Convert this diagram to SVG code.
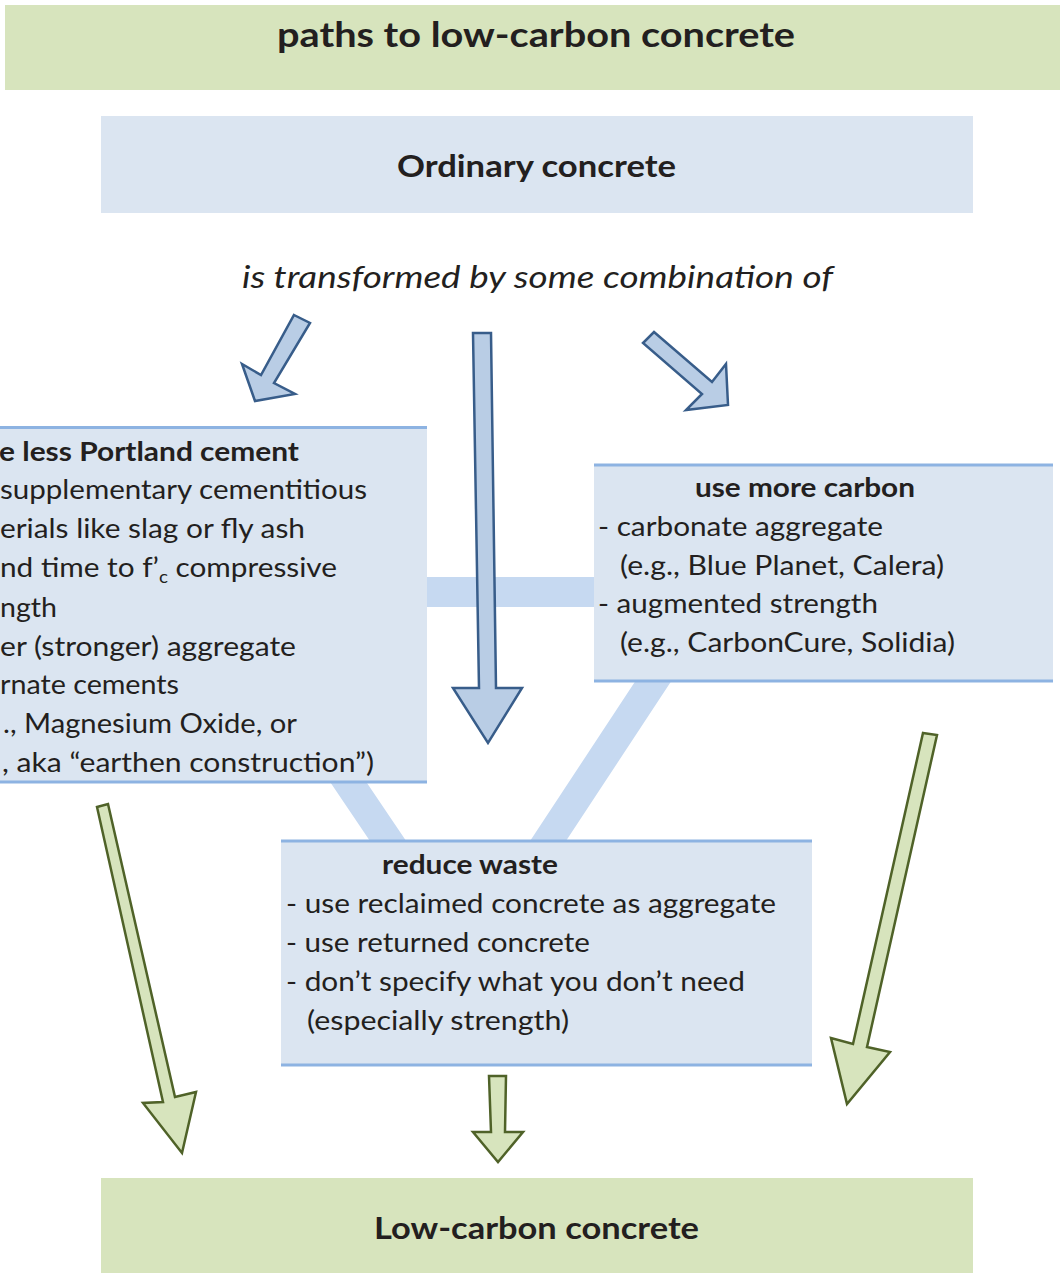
<svg xmlns="http://www.w3.org/2000/svg" width="1060" height="1273" viewBox="0 0 1060 1273">
<style>
text{font-family:Lato,"Open Sans","Liberation Sans",sans-serif;fill:#231f20}
.b{font-weight:bold}
.body{font-size:27px}
.big{font-size:30px;font-weight:bold}
.green{fill:#d7e4bd}
.blue{fill:#dbe5f1}
.rule{stroke:#8db3e2;stroke-width:3}
.band{fill:none;stroke:#c6d9f1;stroke-width:30;stroke-linejoin:miter}
.barrow{fill:#b9cde5;stroke:#385d8a;stroke-width:2.5;stroke-linejoin:miter}
.garrow{fill:#d7e4bd;stroke:#4f6228;stroke-width:2.5;stroke-linejoin:miter}
</style>
<rect width="1060" height="1273" fill="#ffffff"/>
<g id="connectors">
<polygon class="band" points="220,592 712,592 469,961"/>
<polygon class="barrow" points="294,315 310,323 274,383 295,394 255,401 242,364 261,375"/>
<polygon class="barrow" points="473,333 491,333 496,688 522,688 488,743 453,688 479,688"/>
<polygon class="barrow" points="654,332 712,382 726,364 728,405 686,410 702,394 643,343"/>
<polygon class="garrow" points="97,807 108,804 175,1097 196,1092 182,1153 143,1103 163,1102"/>
<polygon class="garrow" points="923,733 937,735 867,1047 890,1052 847,1104 831,1038 853,1044"/>
<polygon class="garrow" points="489,1076 506,1076 505,1132 523,1132 498,1162 473,1132 491,1132"/>
</g>
<g id="title">
<rect class="green" x="5" y="5" width="1055" height="85"/>
<text class="b" x="277" y="47" font-size="35" textLength="518" lengthAdjust="spacingAndGlyphs">paths to low-carbon concrete</text>
</g>
<g id="ordinary">
<rect class="blue" x="101" y="116" width="872" height="97"/>
<text class="big" x="397" y="177" textLength="279" lengthAdjust="spacingAndGlyphs">Ordinary concrete</text>
</g>
<g id="transform-label">
<text x="242" y="288" font-size="31" font-style="italic" textLength="591" lengthAdjust="spacingAndGlyphs">is transformed by some combination of</text>
</g>
<g id="less-cement">
<rect class="blue" x="0" y="428" width="427" height="354"/>
<line class="rule" x1="0" y1="427.5" x2="427" y2="427.5"/>
<line class="rule" x1="0" y1="782" x2="427" y2="782"/>
<text class="body b" x="-1" y="461" textLength="300" lengthAdjust="spacingAndGlyphs">e less Portland cement</text>
<text class="body" x="0" y="499" textLength="367" lengthAdjust="spacingAndGlyphs">supplementary cementitious</text>
<text class="body" x="0" y="538" textLength="305" lengthAdjust="spacingAndGlyphs">erials like slag or fly ash</text>
<text class="body" x="0" y="577" textLength="337" lengthAdjust="spacingAndGlyphs">nd time to f’<tspan font-size="17" dy="6">c</tspan><tspan dy="-6"> compressive</tspan></text>
<text class="body" x="0" y="617" textLength="57" lengthAdjust="spacingAndGlyphs">ngth</text>
<text class="body" x="0" y="656" textLength="296" lengthAdjust="spacingAndGlyphs">er (stronger) aggregate</text>
<text class="body" x="0" y="694" textLength="179" lengthAdjust="spacingAndGlyphs">rnate cements</text>
<text class="body" x="3" y="733" textLength="294" lengthAdjust="spacingAndGlyphs">., Magnesium Oxide, or</text>
<text class="body" x="2" y="772" textLength="372" lengthAdjust="spacingAndGlyphs">, aka “earthen construction”)</text>
</g>
<g id="more-carbon">
<rect class="blue" x="594" y="465" width="459" height="216"/>
<line class="rule" x1="594" y1="465" x2="1053" y2="465"/>
<line class="rule" x1="594" y1="681" x2="1053" y2="681"/>
<text class="body b" x="695" y="497" textLength="220" lengthAdjust="spacingAndGlyphs">use more carbon</text>
<text class="body" x="598" y="536" textLength="285" lengthAdjust="spacingAndGlyphs">- carbonate aggregate</text>
<text class="body" x="620" y="575" textLength="324" lengthAdjust="spacingAndGlyphs">(e.g., Blue Planet, Calera)</text>
<text class="body" x="598" y="613" textLength="280" lengthAdjust="spacingAndGlyphs">- augmented strength</text>
<text class="body" x="620" y="652" textLength="335" lengthAdjust="spacingAndGlyphs">(e.g., CarbonCure, Solidia)</text>
</g>
<g id="reduce-waste">
<rect class="blue" x="281" y="841" width="531" height="224"/>
<line class="rule" x1="281" y1="841" x2="812" y2="841"/>
<line class="rule" x1="281" y1="1065" x2="812" y2="1065"/>
<text class="body b" x="382" y="874" textLength="176" lengthAdjust="spacingAndGlyphs">reduce waste</text>
<text class="body" x="286" y="913" textLength="490" lengthAdjust="spacingAndGlyphs">- use reclaimed concrete as aggregate</text>
<text class="body" x="286" y="952" textLength="304" lengthAdjust="spacingAndGlyphs">- use returned concrete</text>
<text class="body" x="286" y="991" textLength="459" lengthAdjust="spacingAndGlyphs">- don’t specify what you don’t need</text>
<text class="body" x="307" y="1030" textLength="262" lengthAdjust="spacingAndGlyphs">(especially strength)</text>
</g>
<g id="low-carbon">
<rect class="green" x="101" y="1178" width="872" height="95"/>
<text class="big" x="374" y="1239" textLength="325" lengthAdjust="spacingAndGlyphs">Low-carbon concrete</text>
</g>
</svg>
